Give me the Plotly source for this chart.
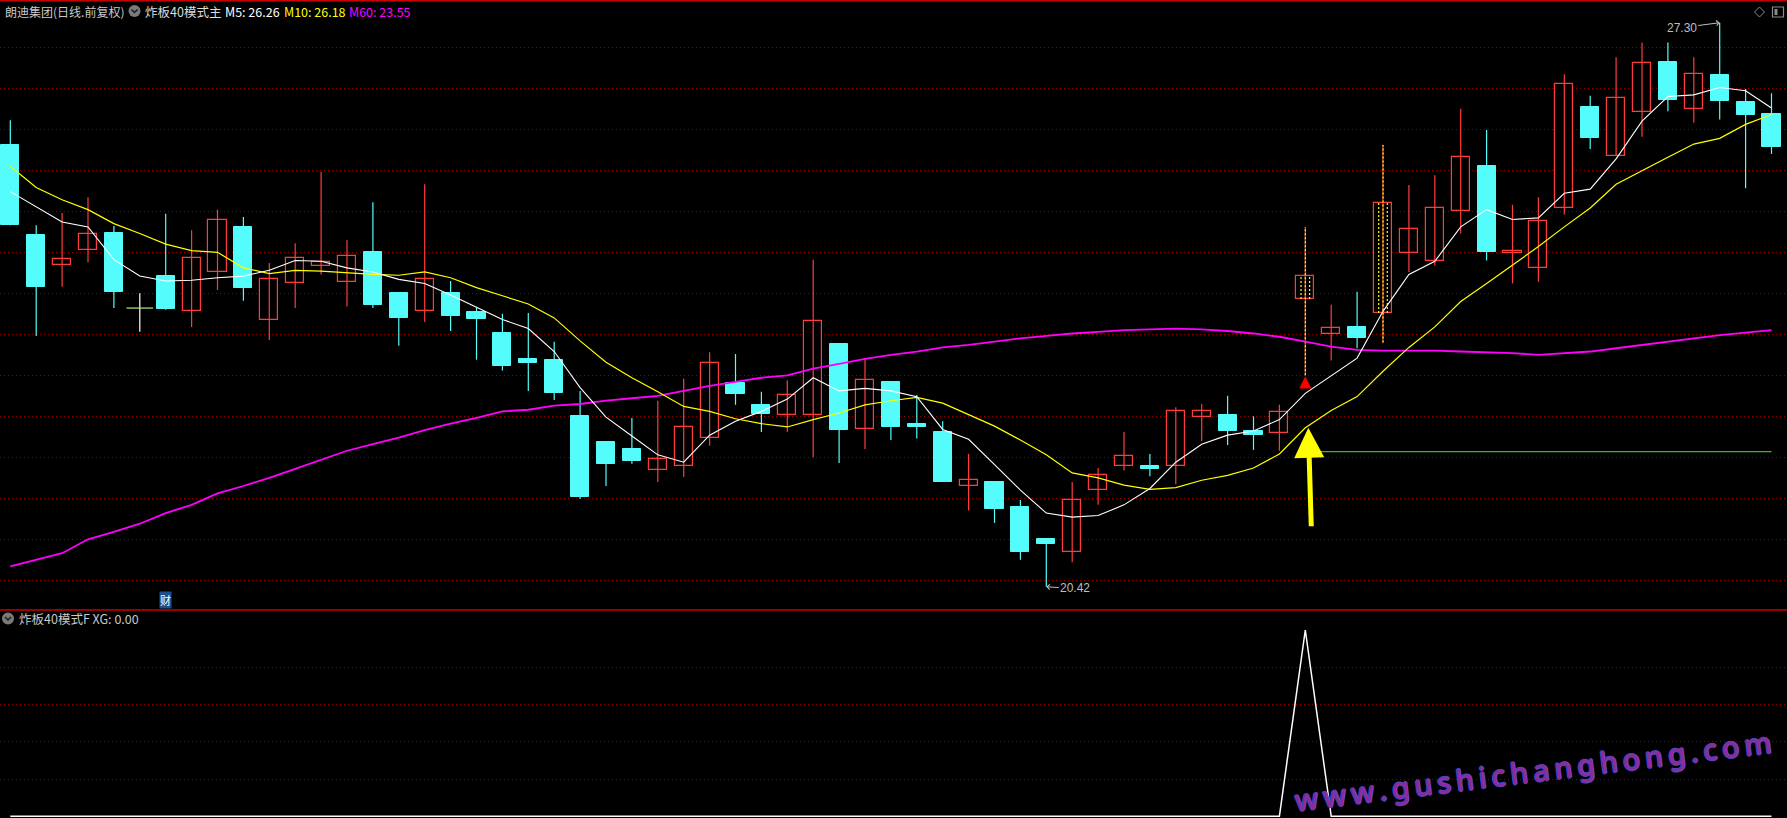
import plotly.graph_objects as go

# ---------------- data ----------------
open_ = [25.81, 24.71, 24.34, 24.53, 24.74, 23.82, 24.21, 23.79, 24.26, 24.81,
         23.67, 24.13, 24.33, 24.14, 24.50, 24.00, 23.78, 24.00, 23.77, 23.52,
         23.20, 23.19, 22.50, 22.19, 22.10, 21.84, 21.90, 22.23, 22.91, 22.64,
         22.52, 22.51, 23.38, 22.35, 22.92, 22.41, 22.31, 21.65, 21.70, 21.39,
         21.00, 20.85, 21.60, 21.90, 21.90, 21.90, 22.49, 22.52, 22.32, 22.30,
         23.93, 23.50, 23.59, 23.76, 24.49, 24.40, 25.00, 25.55, 24.49, 24.31,
         25.04, 26.27, 25.68, 26.21, 26.82, 26.25, 26.66, 26.33, 26.19]
high = [26.11, 24.83, 24.98, 25.17, 24.82, 24.00, 24.97, 24.77, 25.02, 24.93,
        24.37, 24.61, 25.48, 24.65, 25.11, 24.00, 25.33, 24.15, 23.83, 23.75,
        23.76, 23.41, 22.81, 22.20, 22.48, 22.69, 22.96, 23.28, 23.26, 22.80,
        22.94, 24.41, 23.38, 23.21, 22.92, 22.76, 22.44, 22.04, 21.70, 21.48,
        21.00, 21.70, 21.87, 22.31, 22.04, 22.61, 22.65, 22.75, 22.50, 22.64,
        24.81, 23.86, 24.02, 25.81, 25.32, 25.44, 26.25, 25.99, 25.08, 25.17,
        26.67, 26.41, 26.88, 27.06, 27.06, 26.88, 27.30, 26.49, 26.44]
low = [24.83, 23.48, 24.08, 24.38, 23.82, 23.53, 23.80, 23.59, 24.04, 23.91,
       23.43, 23.82, 24.23, 23.84, 23.82, 23.36, 23.65, 23.54, 23.19, 23.06,
       22.81, 22.70, 21.49, 21.65, 21.92, 21.70, 21.76, 22.14, 22.64, 22.31,
       22.31, 22.00, 21.93, 22.10, 22.21, 22.23, 21.70, 21.35, 21.20, 20.75,
       20.42, 20.72, 21.42, 21.84, 21.77, 21.67, 22.20, 22.15, 22.09, 22.08,
       23.00, 23.18, 23.33, 23.40, 24.26, 24.34, 24.73, 24.40, 24.12, 24.14,
       24.96, 25.76, 25.68, 25.91, 26.22, 26.08, 26.12, 25.28, 25.70]
close = [24.83, 24.08, 24.42, 24.72, 24.01, 23.82, 23.81, 24.43, 24.90, 24.07,
         24.18, 24.43, 24.38, 24.46, 23.86, 23.70, 24.18, 23.72, 23.69, 23.11,
         23.15, 22.78, 21.51, 21.92, 21.95, 21.98, 22.37, 23.15, 22.77, 22.53,
         22.76, 23.66, 22.33, 22.94, 22.37, 22.37, 21.70, 21.72, 21.37, 20.85,
         20.94, 21.48, 21.79, 22.02, 21.86, 22.56, 22.56, 22.32, 22.27, 22.55,
         24.21, 23.58, 23.46, 25.10, 24.79, 25.04, 25.66, 24.50, 24.52, 24.88,
         26.55, 25.89, 26.38, 26.81, 26.36, 26.68, 26.34, 26.18, 25.79]
ma5 = [25.24, 25.06, 24.87, 24.81, 24.41, 24.21, 24.15, 24.16, 24.19, 24.21,
       24.28, 24.40, 24.39, 24.31, 24.26, 24.17, 24.12, 23.98, 23.83, 23.68,
       23.57, 23.29, 22.85, 22.49, 22.26, 22.03, 21.94, 22.27, 22.44, 22.56,
       22.71, 22.97, 22.81, 22.84, 22.81, 22.74, 22.34, 22.22, 21.91, 21.60,
       21.32, 21.27, 21.29, 21.42, 21.62, 21.94, 22.16, 22.27, 22.32, 22.46,
       22.78, 22.99, 23.21, 23.78, 24.23, 24.39, 24.81, 25.02, 24.90, 24.92,
       25.22, 25.27, 25.64, 26.10, 26.40, 26.42, 26.51, 26.47, 26.26]
ma10 = [25.55, 25.29, 25.14, 25.02, 24.85, 24.73, 24.60, 24.52, 24.50, 24.31,
        24.24, 24.28, 24.27, 24.25, 24.23, 24.22, 24.26, 24.19, 24.07, 23.97,
        23.87, 23.70, 23.42, 23.16, 22.97, 22.80, 22.62, 22.56, 22.47, 22.41,
        22.37, 22.46, 22.54, 22.64, 22.69, 22.73, 22.66, 22.52, 22.38, 22.21,
        22.03, 21.81, 21.75, 21.66, 21.61, 21.63, 21.72, 21.78, 21.87, 22.04,
        22.36, 22.57, 22.74, 23.05, 23.34, 23.59, 23.90, 24.12, 24.34, 24.57,
        24.81, 25.04, 25.33, 25.50, 25.66, 25.82, 25.89, 26.06, 26.18]
ma60 = [20.67, 20.75, 20.83, 21.00, 21.09, 21.19, 21.32, 21.42, 21.56, 21.65,
        21.75, 21.86, 21.97, 22.08, 22.16, 22.24, 22.33, 22.41, 22.48, 22.56,
        22.58, 22.63, 22.65, 22.69, 22.72, 22.75, 22.81, 22.87, 22.92, 22.97,
        23.00, 23.08, 23.14, 23.20, 23.25, 23.29, 23.34, 23.37, 23.41, 23.45,
        23.48, 23.51, 23.53, 23.55, 23.56, 23.57, 23.56, 23.54, 23.51, 23.47,
        23.41, 23.35, 23.31, 23.30, 23.30, 23.30, 23.29, 23.28, 23.27, 23.25,
        23.27, 23.29, 23.33, 23.37, 23.41, 23.45, 23.49, 23.52, 23.55]
xg = [0, 0, 0, 0, 0, 0, 0, 0, 0, 0,
      0, 0, 0, 0, 0, 0, 0, 0, 0, 0,
      0, 0, 0, 0, 0, 0, 0, 0, 0, 0,
      0, 0, 0, 0, 0, 0, 0, 0, 0, 0,
      0, 0, 0, 0, 0, 0, 0, 0, 0, 0,
      1, 0, 0, 0, 0, 0, 0, 0, 0, 0,
      0, 0, 0, 0, 0, 0, 0, 0, 0]
limit_touch = [50, 53]          # candles marked with yellow dotted lines
green_level = 22.07             # green horizontal level after the signal
green_span = [50.5, 68]
price_grid = [20.5, 21.0, 21.5, 22.0, 22.5, 23.0, 23.5, 24.0, 24.5, 25.0, 25.5, 26.0, 26.5, 27.0]
sub_grid = [0.2, 0.4, 0.6, 0.8]
cai_index = 6
header_main = "朗迪集团(日线.前复权)"
header_ind = "炸板40模式主"
header_ma = [("M5: 26.26", "#FFFFFF"), ("M10: 26.18", "#FFFF00"), ("M60: 23.55", "#FF00FF")]
header_sub = "炸板40模式F XG: 0.00"
watermark = "www.gushichanghong.com"

# ---------------- style ----------------
W, H = 1787, 818
SPLIT = 208 / 818            # sub panel height fraction
RED = "#FF3C3C"
CYAN = "#54FCFC"
GRID = "#8C0000"
BORDER = "#C80000"
BODY_W = 0.70
HL_OFF = 0.166
CJK = "Noto Sans CJK SC, Noto Sans, sans-serif"

n = len(close)
xs = list(range(n))
up = [i for i in xs if close[i] > open_[i]]
down = [i for i in xs if close[i] < open_[i]]
flat = [i for i in xs if close[i] == open_[i]]
signal = xg.index(1)


def wicks(ids):
    wx, wy = [], []
    for i in ids:
        wx += [i, i, None]
        wy += [low[i], high[i], None]
    return wx, wy


def px(x):
    return x / W


def py(y):
    return 1 - y / H


fig = go.Figure()

for ids, col in ((up, RED), (down, CYAN), (flat, "#FFFFFF")):
    wx, wy = wicks(ids)
    fig.add_trace(go.Scatter(x=wx, y=wy, mode="lines", line=dict(color=col, width=1.2),
                             hoverinfo="skip", showlegend=False))

hx, hy = wicks(limit_touch)
fig.add_trace(go.Scatter(x=hx, y=hy, mode="lines", line=dict(color="#FFFF00", width=1.2, dash="2px,2px"),
                         hoverinfo="skip", showlegend=False))

fig.add_trace(go.Bar(x=up, y=[close[i] - open_[i] for i in up], base=[open_[i] for i in up],
                     width=BODY_W, marker=dict(color="#000000", line=dict(color=RED, width=1.2)),
                     hoverinfo="skip", showlegend=False))
fig.add_trace(go.Bar(x=down, y=[open_[i] - close[i] for i in down], base=[close[i] for i in down],
                     width=BODY_W, marker=dict(color=CYAN, line=dict(color=CYAN, width=1)),
                     hoverinfo="skip", showlegend=False))

ix, iy = [], []
for i in limit_touch:
    for d in (-HL_OFF, HL_OFF):
        ix += [i + d, i + d, None]
        iy += [open_[i], close[i], None]
fig.add_trace(go.Scatter(x=ix, y=iy, mode="lines", line=dict(color="#FFFF00", width=1.2, dash="2px,2px"),
                         hoverinfo="skip", showlegend=False))

fig.add_trace(go.Scatter(x=flat, y=[open_[i] for i in flat], mode="markers",
                         marker=dict(symbol="line-ew-open", size=19, line=dict(color="#FFFFFF", width=1.2)),
                         hoverinfo="skip", showlegend=False))

fig.add_trace(go.Scatter(x=green_span, y=[green_level, green_level], mode="lines",
                         line=dict(color="#22C822", width=1.3), hoverinfo="skip", showlegend=False))

fig.add_trace(go.Scatter(x=xs, y=ma60, mode="lines", line=dict(color="#FF00FF", width=1.8),
                         hoverinfo="skip", showlegend=False))
fig.add_trace(go.Scatter(x=xs, y=ma10, mode="lines", line=dict(color="#FFFF00", width=1.2),
                         hoverinfo="skip", showlegend=False))
fig.add_trace(go.Scatter(x=xs, y=ma5, mode="lines", line=dict(color="#FFFFFF", width=1.1),
                         hoverinfo="skip", showlegend=False))

fig.add_trace(go.Scatter(x=xs, y=xg, mode="lines", line=dict(color="#FFFFFF", width=1.5),
                         xaxis="x2", yaxis="y2", hoverinfo="skip", showlegend=False))

x_range = [-10.3 / 25.9, (W - 10.3) / 25.9]
y_main = [27.0 - (610 - 47.3) / 82, 27.0 + 47.3 / 82]
y_sub = [(816.3 - 818) / 186.3, (816.3 - 610) / 186.3]

axis_common = dict(showticklabels=False, zeroline=False, showline=False, ticks="")
fig.update_layout(
    width=W, height=H,
    margin=dict(l=0, r=0, t=0, b=0),
    paper_bgcolor="#000000", plot_bgcolor="#000000",
    barmode="overlay", bargap=0,
    showlegend=False,
    xaxis=dict(domain=[0, 1], range=x_range, showgrid=False, anchor="y", **axis_common),
    yaxis=dict(domain=[SPLIT, 1], range=y_main, tickvals=price_grid, showgrid=True,
               gridcolor=GRID, gridwidth=1, griddash="1px,3px", anchor="x", **axis_common),
    xaxis2=dict(domain=[0, 1], range=x_range, showgrid=False, anchor="y2", **axis_common),
    yaxis2=dict(domain=[0, SPLIT], range=y_sub, tickvals=sub_grid, showgrid=True,
                gridcolor=GRID, gridwidth=1, griddash="1px,3px", anchor="x2", **axis_common),
)

shapes = [
    dict(type="line", xref="paper", yref="paper", x0=0, x1=1, y0=py(0.7), y1=py(0.7),
         line=dict(color=BORDER, width=1.5)),
    dict(type="line", xref="paper", yref="paper", x0=0, x1=1, y0=SPLIT, y1=SPLIT,
         line=dict(color=BORDER, width=1.5)),
    # header toggle icons
    dict(type="circle", xref="paper", yref="paper", x0=px(128.5), x1=px(140.5), y0=py(17), y1=py(5),
         fillcolor="#7A7A7A", line=dict(width=0)),
    dict(type="path", xref="paper", yref="paper",
         path=f"M{px(131.5)},{py(9.5)} L{px(134.5)},{py(12.5)} L{px(137.5)},{py(9.5)}",
         line=dict(color="#1A1A1A", width=1.5)),
    dict(type="circle", xref="paper", yref="paper", x0=px(2), x1=px(14), y0=py(624.5), y1=py(612.5),
         fillcolor="#7A7A7A", line=dict(width=0)),
    dict(type="path", xref="paper", yref="paper",
         path=f"M{px(5)},{py(617)} L{px(8)},{py(620)} L{px(11)},{py(617)}",
         line=dict(color="#1A1A1A", width=1.5)),
    # top-right icons
    dict(type="path", xref="paper", yref="paper",
         path=f"M{px(1759.5)},{py(7)} L{px(1764.5)},{py(12)} L{px(1759.5)},{py(17)} L{px(1754.5)},{py(12)} Z",
         line=dict(color="#8A8A8A", width=1)),
    dict(type="rect", xref="paper", yref="paper", x0=px(1772.5), x1=px(1783.5), y0=py(17), y1=py(7),
         line=dict(color="#8A8A8A", width=1.2)),
    dict(type="rect", xref="paper", yref="paper", x0=px(1774.5), x1=px(1777.5), y0=py(15), y1=py(9),
         fillcolor="#8A8A8A", line=dict(width=0)),
]
fig.update_layout(shapes=shapes)

ann = []
ann.append(dict(xref="paper", yref="paper", x=px(3), y=py(11.5), xanchor="left", yanchor="middle",
                text=header_main, showarrow=False, font=dict(family=CJK, size=12, color="#C8C8C8")))
ann.append(dict(xref="paper", yref="paper", x=px(143), y=py(11.5), xanchor="left", yanchor="middle",
                text=header_ind, showarrow=False, font=dict(family=CJK, size=12.5, color="#DCDCDC")))
for (txt, col), x0 in zip(header_ma, (223, 282, 347)):
    ann.append(dict(xref="paper", yref="paper", x=px(x0), y=py(11.5), xanchor="left", yanchor="middle",
                    text=txt, showarrow=False, font=dict(family=CJK, size=12.5, color=col)))
ann.append(dict(xref="paper", yref="paper", x=px(17), y=py(618.5), xanchor="left", yanchor="middle",
                text=header_sub, showarrow=False, font=dict(family=CJK, size=12.5, color="#C8C8C8")))

hi_i = high.index(max(high))
lo_i = low.index(min(low))
ann.append(dict(x=hi_i, y=high[hi_i], xref="x", yref="y", text=f"{high[hi_i]:.2f}", showarrow=True,
                ax=-38, ay=5, arrowhead=4, arrowsize=1, arrowwidth=1, arrowcolor="#BEBEBE",
                font=dict(family="Liberation Sans, Arial", size=12, color="#BEBEBE")))
ann.append(dict(x=lo_i, y=low[lo_i], xref="x", yref="y", text=f"{low[lo_i]:.2f}", showarrow=True,
                ax=29, ay=1.5, arrowhead=4, arrowsize=1, arrowwidth=1, arrowcolor="#BEBEBE",
                font=dict(family="Liberation Sans, Arial", size=12, color="#BEBEBE")))
# signal arrows
ann.append(dict(x=signal, y=low[signal], xref="x", yref="y", text="", showarrow=True,
                ax=0, ay=12, yshift=-1, arrowhead=2, arrowsize=1.1, arrowwidth=2.2, arrowcolor="#FF0000"))
ann.append(dict(x=signal, y=ma10[signal], xref="x", yref="y", text="", showarrow=True,
                ax=3, ay=100, xshift=3, arrowhead=2, arrowsize=1.2, arrowwidth=5, arrowcolor="#FFFF00"))
# 财 marker
ann.append(dict(x=cai_index, y=SPLIT, xref="x", yref="paper", yanchor="bottom", yshift=1.5,
                text="财", showarrow=False, bgcolor="#1F4E8C", borderpad=0,
                font=dict(family=CJK, size=11, color="#FFFFFF")))
# site watermark (tilted, purple with blue rim)
ann.append(dict(xref="paper", yref="paper", x=px(1533), y=py(770), xanchor="center", yanchor="middle",
                text="\u2009".join(watermark), showarrow=False, textangle=-7,
                font=dict(family="Noto Sans, DejaVu Sans, sans-serif", size=29, color="#8E2A9C",
                          weight=500,
                          shadow="1px 0 0 #4848C0, -1px 0 0 #4848C0, 0 1px 0 #4848C0, 0 -1px 0 #4848C0")))
fig.update_layout(annotations=ann)

fig.write_html("out.html", config={"displayModeBar": False},
               post_script="document.body.style.margin='0';document.body.style.overflow='hidden';")
